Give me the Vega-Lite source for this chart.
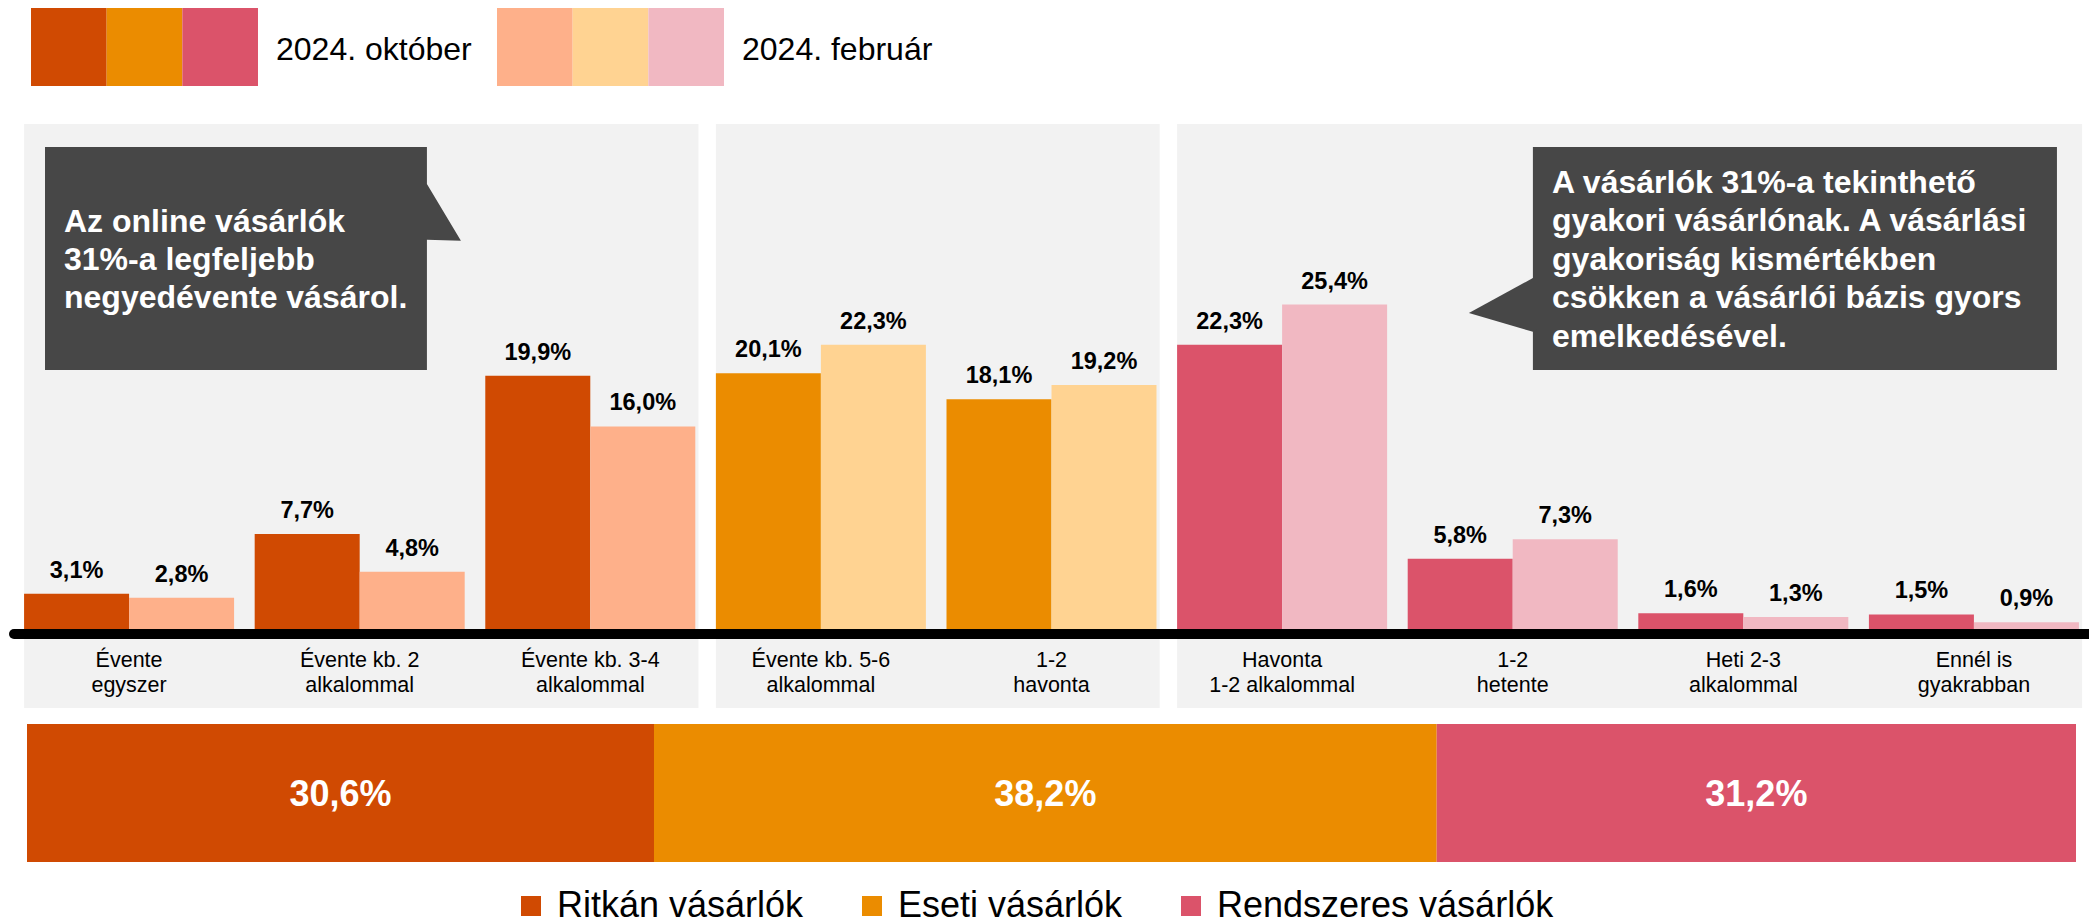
{
  "$schema": "https://vega.github.io/schema/vega-lite/v6.json",
  "padding": {"left": 9, "top": 8, "right": 0, "bottom": 0},
  "background": "white",
  "config": {
    "view": {"stroke": null},
    "font": "Liberation Sans",
    "locale": {"number": {"decimal": ",", "thousands": " ", "grouping": [3], "currency": ["", ""]}},
    "axis": {"grid": false}
  },
  "datasets": {
    "bars": [
      {"category": "Évente\negyszer", "period": "2024. október", "segment": "Ritkán vásárlók", "value": 0.031},
      {"category": "Évente\negyszer", "period": "2024. február", "segment": "Ritkán vásárlók", "value": 0.028},
      {"category": "Évente kb. 2\nalkalommal", "period": "2024. október", "segment": "Ritkán vásárlók", "value": 0.077},
      {"category": "Évente kb. 2\nalkalommal", "period": "2024. február", "segment": "Ritkán vásárlók", "value": 0.048},
      {"category": "Évente kb. 3-4\nalkalommal", "period": "2024. október", "segment": "Ritkán vásárlók", "value": 0.199},
      {"category": "Évente kb. 3-4\nalkalommal", "period": "2024. február", "segment": "Ritkán vásárlók", "value": 0.160},
      {"category": "Évente kb. 5-6\nalkalommal", "period": "2024. október", "segment": "Eseti vásárlók", "value": 0.201},
      {"category": "Évente kb. 5-6\nalkalommal", "period": "2024. február", "segment": "Eseti vásárlók", "value": 0.223},
      {"category": "1-2\nhavonta", "period": "2024. október", "segment": "Eseti vásárlók", "value": 0.181},
      {"category": "1-2\nhavonta", "period": "2024. február", "segment": "Eseti vásárlók", "value": 0.192},
      {"category": "Havonta\n1-2 alkalommal", "period": "2024. október", "segment": "Rendszeres vásárlók", "value": 0.223},
      {"category": "Havonta\n1-2 alkalommal", "period": "2024. február", "segment": "Rendszeres vásárlók", "value": 0.254},
      {"category": "1-2\nhetente", "period": "2024. október", "segment": "Rendszeres vásárlók", "value": 0.058},
      {"category": "1-2\nhetente", "period": "2024. február", "segment": "Rendszeres vásárlók", "value": 0.073},
      {"category": "Heti 2-3\nalkalommal", "period": "2024. október", "segment": "Rendszeres vásárlók", "value": 0.016},
      {"category": "Heti 2-3\nalkalommal", "period": "2024. február", "segment": "Rendszeres vásárlók", "value": 0.013},
      {"category": "Ennél is\ngyakrabban", "period": "2024. október", "segment": "Rendszeres vásárlók", "value": 0.015},
      {"category": "Ennél is\ngyakrabban", "period": "2024. február", "segment": "Rendszeres vásárlók", "value": 0.009}
    ],
    "panels": [
      {"start": "Évente\negyszer", "end": "Évente kb. 3-4\nalkalommal"},
      {"start": "Évente kb. 5-6\nalkalommal", "end": "1-2\nhavonta"},
      {"start": "Havonta\n1-2 alkalommal", "end": "Ennél is\ngyakrabban"}
    ],
    "keys": [
      {"period": "2024. október", "segment": "Ritkán vásárlók"},
      {"period": "2024. október", "segment": "Eseti vásárlók"},
      {"period": "2024. október", "segment": "Rendszeres vásárlók"},
      {"period": "2024. február", "segment": "Ritkán vásárlók"},
      {"period": "2024. február", "segment": "Eseti vásárlók"},
      {"period": "2024. február", "segment": "Rendszeres vásárlók"}
    ],
    "shares": [
      {"segment": "Ritkán vásárlók", "level": 1, "share": 0.306},
      {"segment": "Eseti vásárlók", "level": 2, "share": 0.382},
      {"segment": "Rendszeres vásárlók", "level": 3, "share": 0.312}
    ]
  },
  "bounds": "flush",
  "spacing": 38,
  "resolve": {"scale": {"color": "independent", "fill": "independent", "xOffset": "independent"}},
  "vconcat": [
    {
      "width": 727,
      "height": 78,
      "data": {"name": "keys"},
      "layer": [
        {
          "transform": [{"filter": {"field": "period", "equal": "2024. október"}}],
          "mark": {"type": "bar"},
          "encoding": {
            "x": {"field": "period", "type": "nominal", "axis": null, "scale": {"domain": ["2024. október", "2024. február"], "paddingInner": 0.5129, "paddingOuter": 0.0365, "align": 0.5}},
            "xOffset": {"field": "segment", "type": "nominal", "scale": {"domain": ["Ritkán vásárlók", "Eseti vásárlók", "Rendszeres vásárlók"], "paddingInner": 0, "paddingOuter": 0}},
            "color": {"field": "segment", "type": "nominal", "scale": {"domain": ["Ritkán vásárlók", "Eseti vásárlók", "Rendszeres vásárlók"], "range": ["#D04A02", "#EB8C00", "#DB536A"]}, "legend": null}
          }
        },
        {
          "transform": [{"filter": {"field": "period", "equal": "2024. február"}}],
          "mark": {"type": "bar"},
          "encoding": {
            "x": {"field": "period", "type": "nominal", "axis": null},
            "xOffset": {"field": "segment", "type": "nominal"},
            "fill": {"field": "segment", "type": "nominal", "scale": {"domain": ["Ritkán vásárlók", "Eseti vásárlók", "Rendszeres vásárlók"], "range": ["#FEB08A", "#FFD392", "#F1B8C2"]}, "legend": null}
          }
        },
        {
          "transform": [{"filter": {"field": "segment", "equal": "Ritkán vásárlók"}}],
          "mark": {"type": "text", "align": "left", "baseline": "middle", "dx": 18, "dy": 3, "fontSize": 32, "color": "#000000"},
          "encoding": {
            "x": {"field": "period", "type": "nominal", "bandPosition": 1, "axis": null},
            "text": {"field": "period"}
          }
        }
      ]
    },
    {
      "bounds": "flush",
      "spacing": 16,
      "center": true,
      "resolve": {"scale": {"color": "independent", "fill": "independent", "xOffset": "independent"}},
      "vconcat": [
        {
          "width": 2075,
          "height": 584,
          "resolve": {"scale": {"x": "independent"}},
          "layer": [
            {
              "layer": [
                {
                  "data": {"name": "panels"},
                  "mark": {"type": "rect", "color": "#F2F2F2"},
                  "encoding": {
                    "x": {"field": "start", "type": "nominal", "bandPosition": 0,
                      "scale": {"domain": ["Évente\negyszer", "Évente kb. 2\nalkalommal", "Évente kb. 3-4\nalkalommal", "Évente kb. 5-6\nalkalommal", "1-2\nhavonta", "Havonta\n1-2 alkalommal", "1-2\nhetente", "Heti 2-3\nalkalommal", "Ennél is\ngyakrabban"], "paddingInner": 0.0893, "paddingOuter": 0.0437},
                      "axis": {"title": null, "orient": "bottom", "offset": -74, "domain": false, "ticks": false, "tickSize": 0, "labelPadding": 15, "labelFontSize": 21.5, "labelColor": "#000000", "labelAngle": 0, "labelBaseline": "top", "labelLineHeight": 25, "labelLimit": 0, "labelExpr": "split(datum.label, '\\n')"}},
                    "x2": {"field": "end", "bandPosition": 1.015}
                  }
                },
                {
                  "data": {"name": "bars"},
                  "transform": [{"filter": {"field": "period", "equal": "2024. október"}}],
                  "mark": {"type": "bar"},
                  "encoding": {
                    "x": {"field": "category", "type": "nominal"},
                    "xOffset": {"field": "period", "type": "nominal", "scale": {"domain": ["2024. október", "2024. február"], "paddingInner": 0, "paddingOuter": 0}},
                    "y": {"field": "value", "type": "quantitative", "axis": null, "scale": {"domain": [-0.0571, 0.3932], "nice": false, "zero": false}},
                    "color": {"field": "segment", "type": "nominal", "scale": {"domain": ["Ritkán vásárlók", "Eseti vásárlók", "Rendszeres vásárlók"], "range": ["#D04A02", "#EB8C00", "#DB536A"]}, "legend": null}
                  }
                },
                {
                  "data": {"name": "bars"},
                  "transform": [{"filter": {"field": "period", "equal": "2024. február"}}],
                  "mark": {"type": "bar"},
                  "encoding": {
                    "x": {"field": "category", "type": "nominal"},
                    "xOffset": {"field": "period", "type": "nominal"},
                    "y": {"field": "value", "type": "quantitative", "axis": null},
                    "fill": {"field": "segment", "type": "nominal", "scale": {"domain": ["Ritkán vásárlók", "Eseti vásárlók", "Rendszeres vásárlók"], "range": ["#FEB08A", "#FFD392", "#F1B8C2"]}, "legend": null}
                  }
                },
                {
                  "data": {"name": "bars"},
                  "mark": {"type": "text", "fontSize": 23.5, "fontWeight": "bold", "baseline": "alphabetic", "dy": -16, "color": "#000000"},
                  "encoding": {
                    "x": {"field": "category", "type": "nominal"},
                    "xOffset": {"field": "period", "type": "nominal"},
                    "y": {"field": "value", "type": "quantitative", "axis": null},
                    "text": {"field": "value", "type": "quantitative", "format": ".1%"}
                  }
                },
                {
                  "data": {"values": [{}]},
                  "mark": {"type": "rule", "strokeWidth": 10, "strokeCap": "round", "color": "#000000"},
                  "encoding": {"y": {"datum": 0, "type": "quantitative", "axis": null}}
                }
              ]
            },
            {
              "layer": [
                {
                  "data": {"values": [{}]},
                  "mark": {"type": "rect", "color": "#474747"},
                  "encoding": {
                    "x": {"datum": 0.1345, "type": "quantitative", "axis": null, "scale": {"domain": [0, 9], "nice": false, "zero": false}},
                    "x2": {"datum": 1.791},
                    "y": {"datum": 0.3755, "type": "quantitative", "axis": null},
                    "y2": {"datum": 0.2035}
                  }
                },
                {
                  "data": {"values": [{}]},
                  "mark": {"type": "point", "shape": "M -0.1 -0.82 L 0 -0.82 L 1 0.85 L 0 0.82 L -0.1 0.82 Z", "size": 4624, "filled": true, "opacity": 1, "color": "#474747", "strokeWidth": 0},
                  "encoding": {
                    "x": {"datum": 1.791, "type": "quantitative", "axis": null},
                    "y": {"datum": 0.3254, "type": "quantitative", "axis": null}
                  }
                },
                {
                  "data": {"values": [{}]},
                  "mark": {"type": "text", "text": ["Az online vásárlók", "31%-a legfeljebb", "negyedévente vásárol."], "align": "left", "baseline": "alphabetic", "fontSize": 32, "fontWeight": "bold", "color": "#ffffff", "lineHeight": 38},
                  "encoding": {
                    "x": {"datum": 0.2169, "type": "quantitative", "axis": null},
                    "y": {"datum": 0.31, "type": "quantitative", "axis": null}
                  }
                },
                {
                  "data": {"values": [{}]},
                  "mark": {"type": "rect", "color": "#474747"},
                  "encoding": {
                    "x": {"datum": 6.588, "type": "quantitative", "axis": null},
                    "x2": {"datum": 8.861},
                    "y": {"datum": 0.3755, "type": "quantitative", "axis": null},
                    "y2": {"datum": 0.2035}
                  }
                },
                {
                  "data": {"values": [{}]},
                  "mark": {"type": "point", "shape": "M 0.05 -0.42 L 0 -0.42 L -1 0.125 L 0 0.42 L 0.05 0.42 Z", "size": 16384, "filled": true, "opacity": 1, "color": "#474747", "strokeWidth": 0},
                  "encoding": {
                    "x": {"datum": 6.588, "type": "quantitative", "axis": null},
                    "y": {"datum": 0.2537, "type": "quantitative", "axis": null}
                  }
                },
                {
                  "data": {"values": [{}]},
                  "mark": {"type": "text", "text": ["A vásárlók 31%-a tekinthető", "gyakori vásárlónak. A vásárlási", "gyakoriság kismértékben", "csökken a vásárlói bázis gyors", "emelkedésével."], "align": "left", "baseline": "alphabetic", "fontSize": 32, "fontWeight": "bold", "color": "#ffffff", "lineHeight": 38.5},
                  "encoding": {
                    "x": {"datum": 6.671, "type": "quantitative", "axis": null},
                    "y": {"datum": 0.34, "type": "quantitative", "axis": null}
                  }
                }
              ]
            }
          ]
        },
        {
          "width": 2049,
          "height": 138,
          "data": {"name": "shares"},
          "resolve": {"scale": {"color": "independent"}},
          "layer": [
            {
              "mark": {"type": "bar"},
              "encoding": {
                "x": {"field": "share", "type": "quantitative", "stack": "zero", "axis": null, "scale": {"domain": [0, 1], "nice": false, "zero": false}},
                "y": {"datum": "all", "type": "nominal", "axis": null, "scale": {"paddingInner": 0, "paddingOuter": 0}},
                "order": {"field": "level", "type": "quantitative", "sort": "ascending"},
                "color": {"field": "segment", "type": "nominal",
                  "scale": {"domain": ["Ritkán vásárlók", "Eseti vásárlók", "Rendszeres vásárlók"], "range": ["#D04A02", "#EB8C00", "#DB536A"]},
                  "legend": {"orient": "none", "legendX": 486, "legendY": 164, "direction": "horizontal", "title": null, "symbolType": "square", "symbolSize": 400, "symbolStrokeWidth": 0, "symbolOpacity": 1, "labelFontSize": 36, "labelFont": "Liberation Sans", "labelColor": "#000000", "columnPadding": 50, "labelOffset": 8, "padding": 0, "labelLimit": 0}}
              }
            },
            {
              "mark": {"type": "text", "fontSize": 36, "fontWeight": "bold", "baseline": "middle", "dy": 2},
              "encoding": {
                "x": {"field": "share", "type": "quantitative", "stack": "zero", "bandPosition": 0.5, "axis": null},
                "y": {"datum": "all", "type": "nominal", "axis": null},
                "order": {"field": "level", "type": "quantitative", "sort": "ascending"},
                "text": {"field": "share", "type": "quantitative", "format": ".1%"},
                "color": {"field": "segment", "type": "nominal", "scale": {"range": ["#ffffff", "#ffffff", "#ffffff"]}, "legend": null}
              }
            }
          ]
        }
      ]
    }
  ]
}
